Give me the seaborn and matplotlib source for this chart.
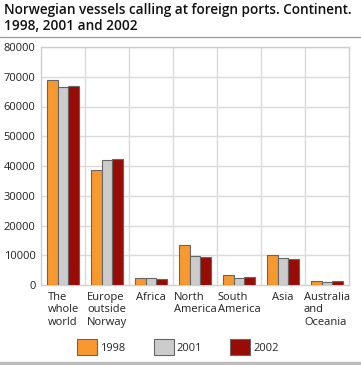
import numpy as np
import pandas as pd
import seaborn as sns
import matplotlib.pyplot as plt
from matplotlib.patches import Patch

# chart data
continents = ["The\nwhole\nworld", "Europe\noutside\nNorway", "Africa", "North\nAmerica",
              "South\nAmerica", "Asia", "Australia\nand\nOceania"]
years = ["1998", "2001", "2002"]
calls_1998 = [69000, 38800, 2250, 13300, 3400, 10200, 1450]
calls_2001 = [66500, 42100, 2250, 9900, 2250, 9200, 900]
calls_2002 = [66800, 42500, 1900, 9450, 2700, 8700, 1350]
yticks = [0, 10000, 20000, 30000, 40000, 50000, 60000, 70000, 80000]

colors = ["#F7992F", "#CCCCCC", "#990C05"]

df = pd.DataFrame({
    "continent": continents * 3,
    "year": [y for y in years for _ in continents],
    "calls": calls_1998 + calls_2001 + calls_2002,
})

sns.set_style("white")
plt.rcParams["font.family"] = ["Open Sans", "DejaVu Sans"]

W, H = 361, 365
fig = plt.figure(figsize=(W / 100, H / 100), dpi=100)
# plot area in pixels: x 41..349, y 47..285
ax = fig.add_axes([41 / W, 1 - 285 / H, 308 / W, 238 / H])

sns.barplot(data=df, x="continent", y="calls", hue="year", palette=colors,
            saturation=1, width=0.72, edgecolor="#666666", linewidth=0.8, ax=ax,
            legend=False, zorder=3)

ax.set_ylim(0, 80000)
ax.set_xlim(-0.5, len(continents) - 0.5)
ax.set_yticks(yticks)
ax.set_yticklabels([str(t) for t in yticks], fontsize=8, color="#222222")
ax.tick_params(axis="y", length=0, pad=4)
ax.set_xticks([])
ax.set_xlabel("")
ax.set_ylabel("")

# grid: horizontal at each tick, vertical between groups
for t in yticks[1:]:
    ax.axhline(t, color="#DADADA", lw=1.0, zorder=1)
for i in range(len(continents) - 1):
    ax.axvline(i + 0.5, color="#DADADA", lw=1.0, zorder=1)
for s in ax.spines.values():
    s.set_color("#CFCFCF")
    s.set_linewidth(1.0)

# category labels centred under each group, lines left-aligned
for i, lab in enumerate(continents):
    ax.text(i, -0.03, lab, transform=ax.get_xaxis_transform(),
            ha="center", va="top", multialignment="left", fontsize=8,
            color="#222222", linespacing=1.15)

# legend
handles = [Patch(facecolor=c, edgecolor="#666666", linewidth=0.8) for c in colors]
fig.legend(handles, years, loc="center", bbox_to_anchor=(178 / W, 1 - 347 / H),
           ncol=3, frameon=False, fontsize=8, handlelength=1.8, handleheight=1.9,
           handletextpad=0.25, columnspacing=2.55, borderaxespad=0, borderpad=0)

fig.text(4 / W, 1 - 3 / H, "Norwegian vessels calling at foreign ports. Continent.\n1998, 2001 and 2002",
         ha="left", va="top", fontsize=9.8, fontweight="semibold", color="#111111",
         linespacing=1.2)
fig.add_artist(plt.Line2D([0, 1], [1 - 37 / H, 1 - 37 / H], color="#999999", lw=0.9))
fig.add_artist(plt.Line2D([0, 1], [1 - 363 / H, 1 - 363 / H], color="#BBBBBB", lw=2.5))

fig.savefig("out.png", dpi=100)
